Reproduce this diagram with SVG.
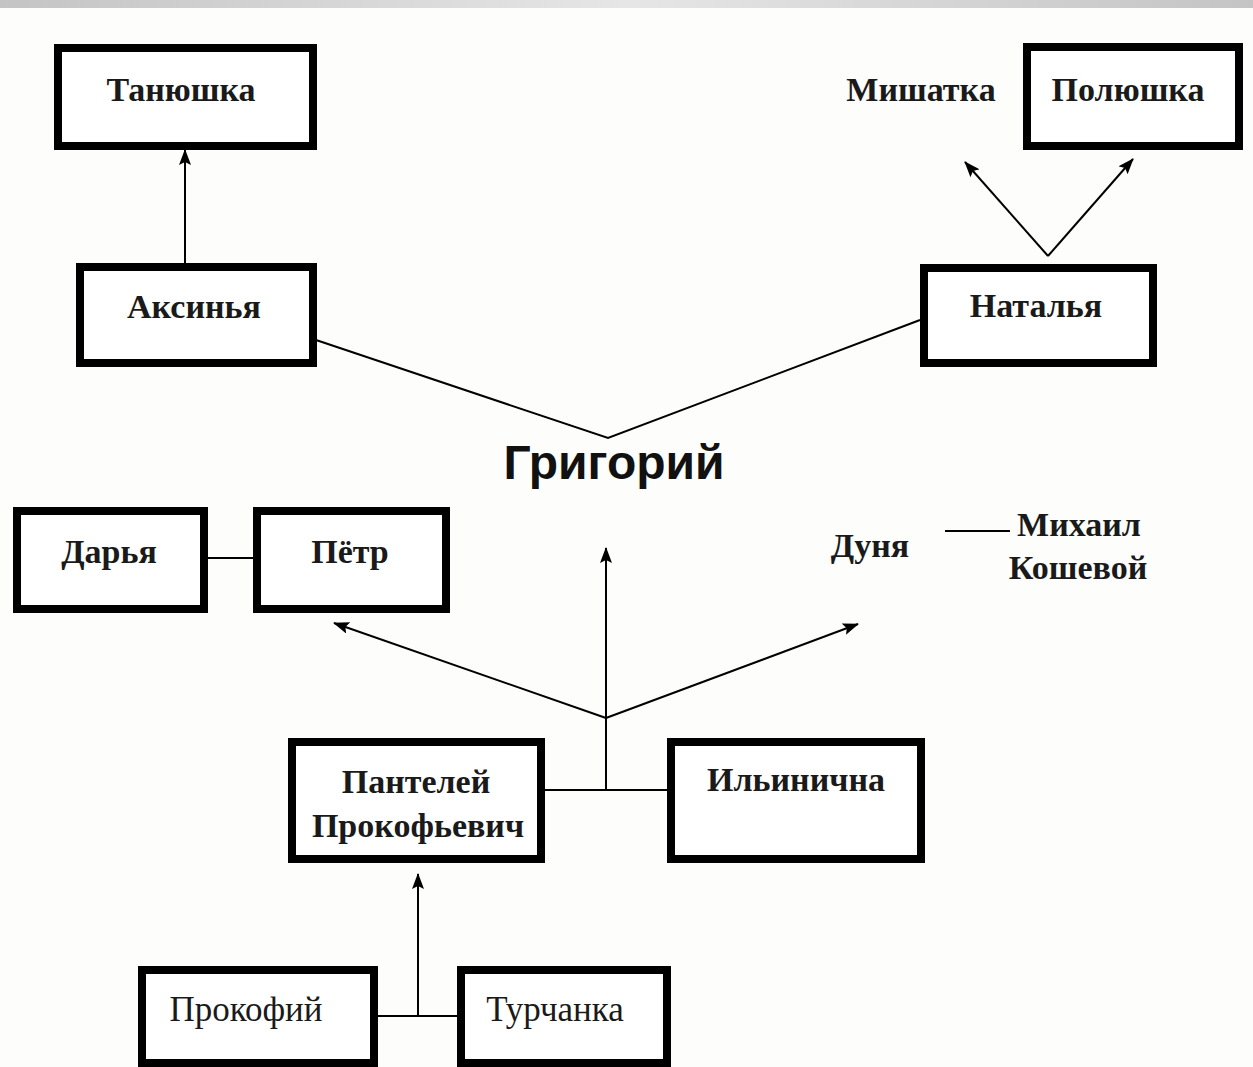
<svg xmlns="http://www.w3.org/2000/svg" width="1253" height="1067" viewBox="0 0 1253 1067">
<defs>
<linearGradient id="bar" x1="0" y1="0" x2="1" y2="0">
<stop offset="0" stop-color="#c4c4c4"/>
<stop offset="0.5" stop-color="#e6e6e6"/>
<stop offset="1" stop-color="#c4c4c4"/>
</linearGradient>
<marker id="ah" viewBox="0 0 16 12" refX="15" refY="6" markerWidth="16" markerHeight="12" markerUnits="userSpaceOnUse" orient="auto">
<path d="M0,0 L16,6 L0,12 L3,6 z" fill="#000"/>
</marker>
<style>
.box{fill:#fff;stroke:#000;stroke-width:8}
.t{font-family:"Liberation Serif","DejaVu Serif",serif;font-weight:bold;font-size:34px;fill:#1a1a1a;text-anchor:middle}
.r{font-weight:normal;font-size:35px}
.c{fill:none;stroke:#000;stroke-width:2}
.a{fill:none;stroke:#000;stroke-width:2;marker-end:url(#ah)}
.g{font-family:"Liberation Sans","DejaVu Sans",sans-serif;font-weight:bold;font-size:48px;fill:#111;text-anchor:middle}
</style>
</defs>
<rect x="0" y="0" width="1253" height="1067" fill="#fdfdfc"/>
<rect x="0" y="0" width="1253" height="8" fill="url(#bar)"/>
<g id="connectors">
<line class="a" x1="185" y1="263" x2="185" y2="150"/>
<polyline class="c" points="316,340 608,438 920,320"/>
<line class="a" x1="1048" y1="256" x2="965" y2="162"/>
<line class="a" x1="1048" y1="256" x2="1133" y2="159"/>
<line class="c" x1="208" y1="558" x2="253" y2="558"/>
<line class="c" x1="945" y1="531" x2="1010" y2="531"/>
<line class="c" x1="545" y1="790" x2="667" y2="790"/>
<line class="a" x1="606" y1="790" x2="606" y2="548"/>
<line class="a" x1="606" y1="718" x2="334" y2="623"/>
<line class="a" x1="606" y1="718" x2="858" y2="624"/>
<line class="c" x1="378" y1="1016" x2="457" y2="1016"/>
<line class="a" x1="418" y1="1016" x2="418" y2="874"/>
</g>
<g id="tanyushka"><rect class="box" x="58" y="48" width="255" height="98"/><text class="t" x="181" y="101">Танюшка</text></g>
<g id="polyushka"><rect class="box" x="1027" y="47" width="212" height="99"/><text class="t" x="1128" y="101">Полюшка</text></g>
<g id="mishatka"><text class="t" x="921" y="101">Мишатка</text></g>
<g id="aksinya"><rect class="box" x="80" y="267" width="233" height="96"/><text class="t" x="194" y="318">Аксинья</text></g>
<g id="natalya"><rect class="box" x="924" y="268" width="229" height="95"/><text class="t" x="1036" y="317">Наталья</text></g>
<g id="grigoriy"><text class="g" x="614" y="479">Григорий</text></g>
<g id="darya"><rect class="box" x="17" y="511" width="187" height="98"/><text class="t" x="109" y="563">Дарья</text></g>
<g id="petr"><rect class="box" x="257" y="511" width="189" height="98"/><text class="t" x="350" y="563">Пётр</text></g>
<g id="dunya"><text class="t" x="870" y="557">Дуня</text></g>
<g id="mikhail"><text class="t" x="1079" y="536">Михаил</text><text class="t" x="1078" y="579">Кошевой</text></g>
<g id="panteley"><rect class="box" x="292" y="742" width="249" height="117"/><text class="t" x="416" y="793">Пантелей</text><text class="t" x="418" y="837">Прокофьевич</text></g>
<g id="ilinichna"><rect class="box" x="671" y="742" width="250" height="117"/><text class="t" x="796" y="791">Ильинична</text></g>
<g id="prokofiy"><rect class="box" x="142" y="970" width="232" height="93"/><text class="t r" x="246" y="1021">Прокофий</text></g>
<g id="turchanka"><rect class="box" x="461" y="970" width="206" height="93"/><text class="t r" x="555" y="1021">Турчанка</text></g>
</svg>
